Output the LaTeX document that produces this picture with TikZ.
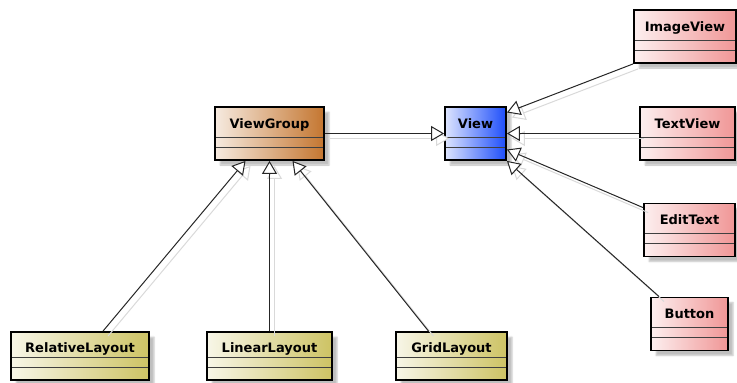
\documentclass[tikz,border=0pt]{standalone}
\usepackage{fontspec}
\setsansfont{DejaVu Sans}
\usepackage{tikz}
\usetikzlibrary{arrows.meta,shadows.blur}
\definecolor{vgbrown}{RGB}{196,118,48}
\definecolor{vblue}{RGB}{30,78,250}
\definecolor{wpink}{RGB}{240,150,150}
\definecolor{lolive}{RGB}{205,195,100}

\begin{document}
\begin{tikzpicture}[x=1pt, y=-1pt, font=\sffamily\bfseries\fontsize{13}{15}\selectfont, cls/.style={draw, line width=1.8pt, inner xsep=0pt, inner ysep=0pt, left color=#1!15, right color=#1, text height=21pt, text depth=32pt, blur shadow={shadow xshift=5pt, shadow yshift=-5pt, shadow blur radius=1.5pt, shadow opacity=25}, path picture={\draw[line width=1pt, black!75] ([yshift=13pt]path picture bounding box.south west) -- ([yshift=13pt]path picture bounding box.south east) ([yshift=23pt]path picture bounding box.south west) -- ([yshift=23pt]path picture bounding box.south east);}}, low/.style={text height=20pt, text depth=28pt}, inh/.style={-{Triangle[open, fill=white, length=13pt, width=15pt]}, line width=1pt, draw=black!85}, ghost/.style={inh, draw=black!15, transform canvas={shift={(5pt,-5pt)}}}]
\useasboundingbox (0,0) rectangle (737,383);
\node[cls=vgbrown, minimum width=109pt] (viewgroup) at (269.5,133.5) {ViewGroup};
\node[cls=vblue, minimum width=61pt] (view) at (475.5,133.5) {View};
\node[cls=wpink, minimum width=102pt] (imageview) at (685,36.5) {ImageView};
\node[cls=wpink, minimum width=95pt] (textview) at (687.5,133.5) {TextView};
\node[cls=wpink, minimum width=91pt] (edittext) at (689.5,230) {EditText};
\node[cls=wpink, minimum width=77pt] (button) at (689.5,324) {Button};
\node[cls=lolive, low, minimum width=138pt] (relativelayout) at (80,356) {RelativeLayout};
\node[cls=lolive, low, minimum width=125pt] (linearlayout) at (269.5,356) {LinearLayout};
\node[cls=lolive, low, minimum width=111pt] (gridlayout) at (451.5,356) {GridLayout};
\draw[ghost] (viewgroup.east) -- (view.west);
\draw[ghost] (imageview.south west) -- ([yshift=21pt]view.east);
\draw[ghost] (textview.west) -- (view.east);
\draw[ghost] ([yshift=-5pt]edittext.north west) -- ([yshift=-16pt]view.east);
\draw[ghost] ([xshift=9pt]button.north west) -- (view.south east);
\draw[ghost] ([xshift=23pt]relativelayout.north) -- ([xshift=-24pt]viewgroup.south);
\draw[ghost] (linearlayout.north) -- (viewgroup.south);
\draw[ghost] ([xshift=-23pt]gridlayout.north) -- ([xshift=23pt]viewgroup.south);
\draw[inh] (viewgroup.east) -- (view.west);
\draw[inh] (imageview.south west) -- ([yshift=21pt]view.east);
\draw[inh] (textview.west) -- (view.east);
\draw[inh] ([yshift=-5pt]edittext.north west) -- ([yshift=-16pt]view.east);
\draw[inh] ([xshift=9pt]button.north west) -- (view.south east);
\draw[inh] ([xshift=23pt]relativelayout.north) -- ([xshift=-24pt]viewgroup.south);
\draw[inh] (linearlayout.north) -- (viewgroup.south);
\draw[inh] ([xshift=-23pt]gridlayout.north) -- ([xshift=23pt]viewgroup.south);
\end{tikzpicture}
\end{document}
